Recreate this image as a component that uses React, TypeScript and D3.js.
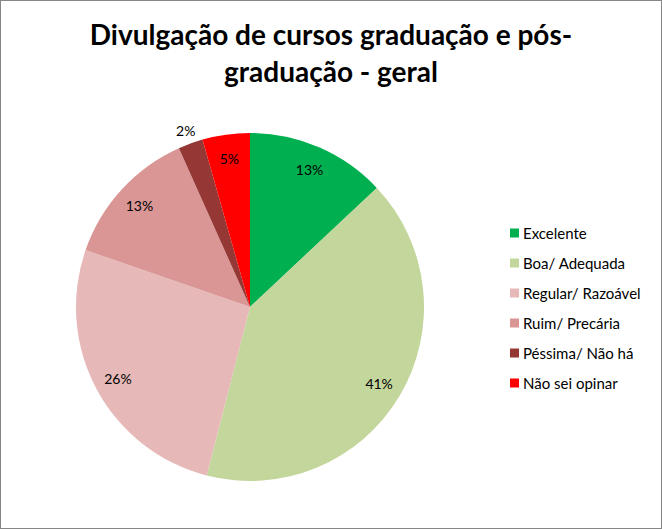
import React from "react";
import * as d3 from "d3";

const categories = ["Excelente", "Boa/ Adequada", "Regular/ Razoável", "Ruim/ Precária", "Péssima/ Não há", "Não sei opinar"];
const values = [13.0, 41.0, 26.3, 13.0, 2.3, 4.4];
const labels = ["13%", "41%", "26%", "13%", "2%", "5%"];
const colors = ["#00B050", "#C3D69B", "#E6B9B8", "#D99694", "#953735", "#FF0000"];

const W = 662, H = 529;
const cx = 250, cy = 307, R = 174;
const FONT = "Lato, 'Open Sans', sans-serif";

export default function App() {
  const pie = d3.pie<number>().sort(null).value((d) => d)(values);
  const arc = d3.arc<d3.PieArcDatum<number>>().innerRadius(0).outerRadius(R);
  const labelR = (i: number) => (i === 4 ? 188 : 150);
  return (
    <svg width={W} height={H} style={{ position: "absolute", left: 0, top: 0, background: "#fff" }} fontFamily={FONT}>
      <rect x={0.5} y={0.5} width={W - 1} height={H - 1} fill="#fff" stroke="#868686" strokeWidth={1} />
      <text x={331} y={45} textAnchor="middle" fontSize={28} fontWeight="bold" fill="#000">Divulgação de cursos graduação e pós-</text>
      <text x={331} y={82} textAnchor="middle" fontSize={28} fontWeight="bold" fill="#000">graduação - geral</text>
      <g transform={`translate(${cx},${cy})`}>
        {pie.map((p, i) => (
          <path key={i} d={arc(p) || ""} fill={colors[i]} />
        ))}
        {pie.map((p, i) => {
          const a = (p.startAngle + p.endAngle) / 2;
          const r = labelR(i);
          return (
            <text key={"l" + i} x={Math.sin(a) * r} y={-Math.cos(a) * r} textAnchor="middle" dominantBaseline="central" fontSize={14} fill="#000">
              {labels[i]}
            </text>
          );
        })}
      </g>
      <g>
        {categories.map((c, i) => (
          <g key={c} transform={`translate(510,${233 + i * 30})`}>
            <rect x={0} y={-4.5} width={9} height={9} fill={colors[i]} />
            <text x={13} y={0} dominantBaseline="central" fontSize={15} fill="#000">{c}</text>
          </g>
        ))}
      </g>
    </svg>
  );
}
